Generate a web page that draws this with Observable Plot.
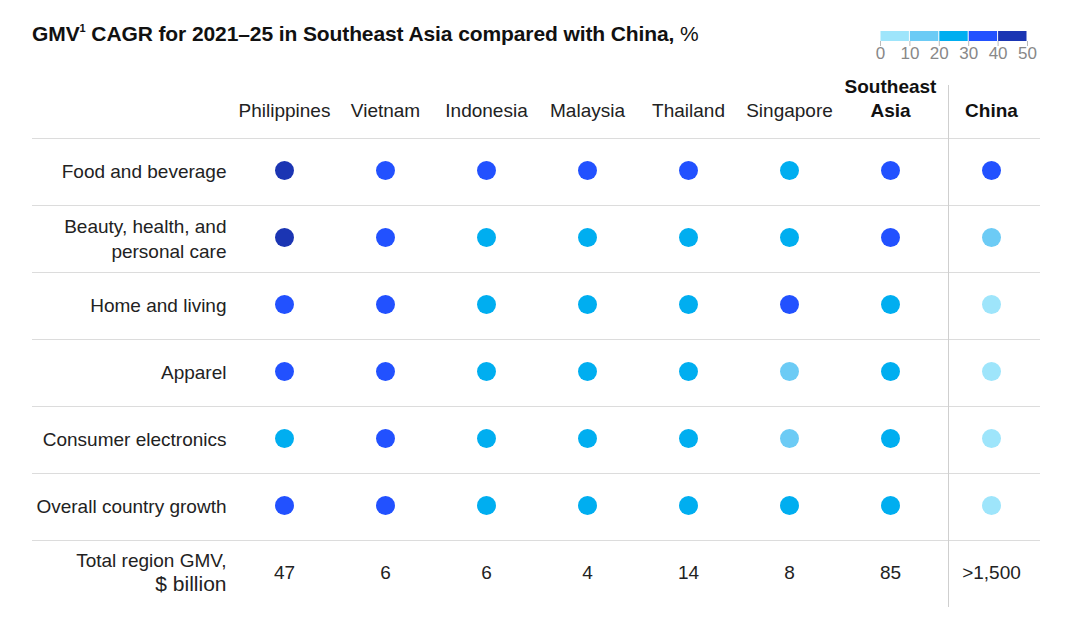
<!DOCTYPE html>
<html><head><meta charset="utf-8">
<script src="https://cdn.jsdelivr.net/npm/d3@7"></script>
<script src="https://cdn.jsdelivr.net/npm/@observablehq/plot@0.6"></script>
<style>
html,body{margin:0;padding:0;background:#fff;overflow:hidden;}
#wrap{position:relative;width:1087px;height:629px;font-family:"Liberation Sans",Arial,sans-serif;}
#title{position:absolute;left:32px;top:22px;font-family:"Liberation Sans",Arial,sans-serif;font-weight:700;font-size:21px;color:#111;letter-spacing:-0.1px;white-space:nowrap;}
#title sup{font-size:11px;font-weight:700;vertical-align:9px;line-height:0;}
#title .pct{font-weight:400;}
#legend{position:absolute;left:0;top:0;}
#chart{position:absolute;left:0;top:70px;}
svg{display:block;}
</style></head>
<body><div id="wrap">
<div id="title">GMV<sup>1</sup> CAGR for 2021–25 in Southeast Asia compared with China, <span class="pct">%</span></div>
<div id="legend"></div>
<div id="chart"></div>
</div>
<script>
// ---- data ----
const columns = ["Philippines","Vietnam","Indonesia","Malaysia","Thailand","Singapore","Southeast Asia","China"];
const columnLabels = ["Philippines","Vietnam","Indonesia","Malaysia","Thailand","Singapore","Southeast\nAsia","China"];
const categories = ["Food and beverage","Beauty, health, and\npersonal care","Home and living","Apparel","Consumer electronics","Overall country growth"];
const totalLabel = "Total region GMV, $ billion";
const totalLabelLines = ["Total region GMV,", "$ billion"];
// CAGR estimates (%), read as the colour bin of each dot
const foodBeverage = [45,35,35,35,35,25,35,35];
const beautyHealth = [45,35,25,25,25,25,35,15];
const homeLiving   = [35,35,25,25,25,35,25,5];
const apparel      = [35,35,25,25,25,15,25,5];
const electronics  = [25,35,25,25,25,15,25,5];
const overall      = [35,35,25,25,25,25,25,5];
const totals = ["47","6","6","4","14","8","85",">1,500"];
const legendTicks = [0,10,20,30,40,50];
const binColors = ["#9ee5fb","#6ccbf5","#00aef0","#2251ff","#1b35b3"];

const seriesRows = [foodBeverage, beautyHealth, homeLiving, apparel, electronics, overall];
const cells = [];
categories.forEach((cat, i) => columns.forEach((col, j) => cells.push({cat, col, value: seriesRows[i][j]})));
const totalsData = columns.map((col, j) => ({col, text: totals[j]}));
const headers = columns.map((col, j) => ({col, label: columnLabels[j], bold: j >= 6}));
const rows = [...categories, totalLabel];

const colorScale = {type: "threshold", domain: [10,20,30,40], range: binColors};
const font = '"Liberation Sans", Arial, sans-serif';

// ---- main table ----
const chart = Plot.plot({
  width: 1087, height: 559,
  marginLeft: 32, marginRight: 47, marginTop: 15, marginBottom: 22,
  style: {fontFamily: font, fontSize: "19px", color: "#222", background: "#fff"},
  x: {type: "point", domain: columns, range: [282, 992], padding: 0, axis: null},
  y: {type: "point", domain: rows, range: [98, 504], padding: 0, axis: null},
  color: colorScale,
  marks: [
    Plot.ruleY(rows, {y: d => d, dy: -32, stroke: "#dcdcdc", strokeWidth: 1}),
    Plot.ruleX(["China"], {x: d => d, dx: -43, stroke: "#cfcfcf", strokeWidth: 1}),
    Plot.text(headers.filter(d => !d.bold), {x: "col", text: "label", frameAnchor: "top", lineAnchor: "bottom", dy: 31, fill: "#222", fontSize: 19}),
    Plot.text(headers.filter(d => d.bold), {x: "col", text: "label", frameAnchor: "top", lineAnchor: "bottom", dy: 31, lineHeight: 1.22, fontWeight: "bold", fill: "#111", fontSize: 19}),
    Plot.text(categories, {y: d => d, text: d => d, frameAnchor: "left", textAnchor: "end", dx: 194, lineHeight: 1.3, fill: "#222", fontSize: 19}),
    Plot.text([totalLabel], {y: d => d, text: () => totalLabelLines[0], frameAnchor: "left", textAnchor: "end", dx: 194, lineAnchor: "bottom", dy: -6, fill: "#222", fontSize: 19}),
    Plot.text([totalLabel], {y: d => d, text: () => totalLabelLines[1], frameAnchor: "left", textAnchor: "end", dx: 194, lineAnchor: "bottom", dy: 18, fill: "#222", fontSize: 21}),
    Plot.dot(cells, {x: "col", y: "cat", fill: "value", r: 9.5}),
    Plot.text(totalsData, {x: "col", y: () => totalLabel, text: "text", fill: "#222", fontSize: 19})
  ]
});
document.getElementById("chart").appendChild(chart);

// ---- legend ----
const legendBins = binColors.map((c, i) => ({x1: legendTicks[i], x2: legendTicks[i+1], value: legendTicks[i] + 5}));
const legend = Plot.plot({
  width: 1087, height: 70,
  marginLeft: 0, marginRight: 0, marginTop: 31, marginBottom: 29,
  style: {fontFamily: font, background: "transparent"},
  x: {domain: [0, 50], range: [880, 1027], axis: null},
  color: colorScale,
  marks: [
    Plot.rect(legendBins, {x1: "x1", x2: "x2", fill: "value", insetLeft: 0.5, insetRight: 0.5}),
    Plot.ruleX(legendTicks, {x: d => d, stroke: "#bbb", insetTop: 10, insetBottom: -5}),
    Plot.text(legendTicks, {x: d => d, text: d => String(d), frameAnchor: "bottom", lineAnchor: "top", dy: 5, fill: "#888", fontSize: 17})
  ]
});
document.getElementById("legend").appendChild(legend);
</script>
</body></html>
